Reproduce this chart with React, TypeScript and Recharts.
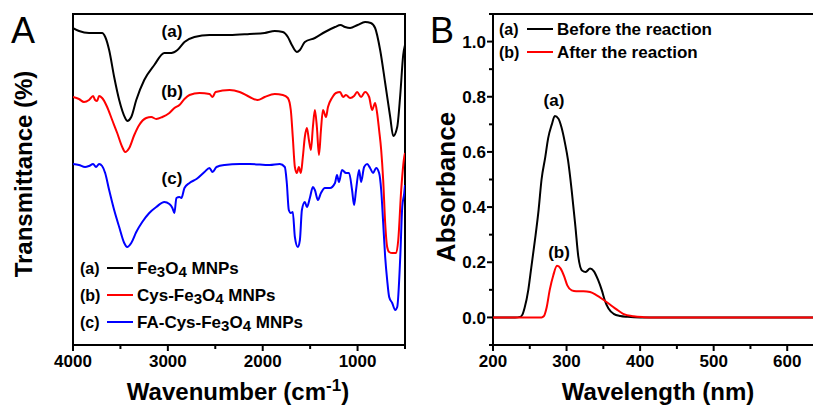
import { LineChart, Line, XAxis, YAxis, ReferenceArea } from "recharts";

// panel A: FTIR, wavenumber (cm-1) vs transmittance (arbitrary units)
const fe3o4: [number, number][] = [
  [4000, 317], [3936, 314], [3831, 312], [3693, 312], [3660, 308], [3619, 295], [3566, 268],
  [3513, 245], [3450, 227], [3429, 224], [3386, 228], [3333, 245], [3249, 265], [3143, 280],
  [3037, 292], [2963, 292], [2899, 295], [2825, 303], [2720, 308], [2561, 310], [2349, 310],
  [2138, 311], [1979, 312], [1873, 314], [1788, 313], [1735, 308], [1693, 300], [1640, 293],
  [1608, 295], [1556, 303], [1450, 307], [1344, 313], [1238, 318], [1180, 320], [1132, 318],
  [1079, 317], [1000, 320], [921, 323], [860, 322], [815, 317], [762, 295], [709, 262],
  [656, 228], [624, 209], [582, 218], [550, 250], [519, 290], [500, 300],
];

const cysFe3o4: [number, number][] = [
  [4000, 248], [3937, 246], [3884, 243], [3831, 245], [3788, 249], [3767, 245], [3746, 244],
  [3725, 249], [3693, 247], [3640, 238], [3587, 225], [3534, 212], [3481, 198], [3450, 193],
  [3407, 197], [3354, 210], [3302, 220], [3228, 227], [3175, 228], [3122, 226], [3058, 228],
  [2984, 232], [2931, 237], [2878, 240], [2825, 246], [2772, 250], [2667, 252], [2561, 251],
  [2529, 248], [2497, 253], [2349, 255], [2243, 253], [2138, 248], [2053, 245], [1979, 248],
  [1873, 251], [1788, 250], [1735, 247], [1704, 235], [1683, 208], [1661, 178], [1640, 172],
  [1619, 178], [1598, 172], [1577, 188], [1556, 208], [1534, 217], [1513, 205], [1492, 195],
  [1471, 218], [1450, 235], [1429, 218], [1407, 190], [1386, 215], [1365, 235], [1333, 228],
  [1312, 238], [1270, 247], [1228, 252], [1185, 253], [1153, 248], [1122, 250], [1079, 247],
  [1037, 249], [1005, 253], [963, 248], [921, 253], [878, 248], [847, 235], [815, 242],
  [794, 232], [773, 215], [751, 195], [730, 165], [709, 122], [688, 98], [667, 93],
  [635, 92], [593, 92], [571, 105], [540, 155], [508, 188], [500, 192],
];

const faCysFe3o4: [number, number][] = [
  [4000, 181], [3937, 180], [3873, 178], [3831, 179], [3788, 181], [3757, 178], [3725, 181],
  [3693, 179], [3661, 172], [3619, 155], [3566, 135], [3513, 118], [3460, 102], [3429, 98],
  [3386, 102], [3333, 113], [3270, 123], [3196, 132], [3122, 138], [3037, 143], [2984, 141],
  [2952, 137], [2931, 132], [2910, 147], [2878, 148], [2857, 147], [2825, 157], [2772, 162],
  [2698, 166], [2614, 173], [2561, 177], [2529, 173], [2487, 178], [2402, 180], [2243, 181],
  [2138, 181], [1926, 180], [1820, 181], [1767, 178], [1746, 162], [1725, 135], [1704, 132],
  [1683, 133], [1661, 108], [1630, 98], [1608, 105], [1587, 135], [1556, 143], [1534, 138],
  [1503, 147], [1471, 158], [1450, 155], [1418, 145], [1386, 152], [1344, 157], [1291, 157],
  [1238, 162], [1217, 170], [1196, 163], [1164, 175], [1122, 172], [1090, 172], [1058, 155],
  [1037, 140], [1016, 155], [984, 175], [963, 163], [931, 178], [899, 181], [868, 177],
  [836, 172], [804, 177], [773, 172], [751, 155], [730, 122], [709, 88], [688, 65],
  [667, 48], [635, 42], [603, 35], [582, 38], [550, 88], [529, 138], [508, 152], [500, 160],
];

// panel B: UV-vis, wavelength (nm) vs absorbance
const beforeReaction: [number, number][] = [
  [200, 0], [230, 0], [237, 0.002], [240, 0.01], [243, 0.035], [248, 0.1], [252, 0.18],
  [257, 0.28], [262, 0.39], [266, 0.5], [271, 0.58], [275, 0.65], [280, 0.7], [284, 0.73],
  [289, 0.72], [293, 0.69], [298, 0.63], [302, 0.57], [307, 0.46], [312, 0.33], [316, 0.22],
  [321, 0.17], [326, 0.165], [332, 0.177], [337, 0.168], [343, 0.135], [348, 0.098],
  [352, 0.062], [357, 0.032], [364, 0.013], [373, 0.005], [383, 0.002], [400, 0], [650, 0],
];

const afterReaction: [number, number][] = [
  [200, 0], [266, 0], [269, 0.004], [273, 0.037], [277, 0.098], [282, 0.153], [287, 0.187],
  [292, 0.177], [297, 0.147], [301, 0.116], [307, 0.098], [313, 0.095], [323, 0.095],
  [332, 0.092], [341, 0.08], [350, 0.064], [359, 0.047], [368, 0.029], [377, 0.013],
  [391, 0.004], [405, 0.001], [420, 0], [650, 0],
];

const wnTicks = [4000, 3500, 3000, 2500, 2000, 1500, 1000, 500];
const wnLabels = [4000, 3000, 2000, 1000];
const wlTicks = [200, 250, 300, 350, 400, 450, 500, 550, 600, 650];
const wlLabels = [200, 300, 400, 500, 600];
const absTicks = [-0.1, 0, 0.1, 0.2, 0.3, 0.4, 0.5, 0.6, 0.7, 0.8, 0.9, 1.0, 1.1];
const absLabels = ["0.0", "0.2", "0.4", "0.6", "0.8", "1.0"];

const font = "'Liberation Sans', Arial, Helvetica, sans-serif";

const toRows = (pts: [number, number][]) => pts.map(([x, y]) => ({ x, y }));

function BottomTick(props: any) {
  const { x, y, payload, labels } = props;
  const major = labels.includes(payload.value);
  return (
    <g>
      <line x1={x} x2={x} y1={y} y2={y + (major ? 6 : 4)} stroke="#000" strokeWidth={2} />
      {major && (
        <text x={x} y={y + 22} textAnchor="middle" fontFamily={font} fontWeight="bold" fontSize={17} fill="#000">
          {payload.value}
        </text>
      )}
    </g>
  );
}

function LeftTick(props: any) {
  const { x, y, payload } = props;
  const lbl = payload.value.toFixed(1);
  const major = absLabels.includes(lbl) && payload.value >= 0;
  return (
    <g>
      <line x1={x - (major ? 6 : 4)} x2={x} y1={y} y2={y} stroke="#000" strokeWidth={2} />
      {major && (
        <text x={x - 7} y={y} dy="0.36em" textAnchor="end" fontFamily={font} fontWeight="bold" fontSize={17} fill="#000">
          {lbl}
        </text>
      )}
    </g>
  );
}

const txt = { fontFamily: font, fontWeight: "bold" as const, fill: "#000" };

export default function App() {
  return (
    <div style={{ position: "fixed", left: 0, top: 0, width: 813, height: 405, overflow: "hidden", background: "#fff" }}>
      <div style={{ position: "absolute", left: 0, top: 0 }}>
        <LineChart width={410} height={405} margin={{ top: 14, right: 5, bottom: 30, left: 73 }}>
          <XAxis
            type="number"
            dataKey="x"
            domain={[500, 4000]}
            reversed
            ticks={wnTicks}
            height={30}
            tickSize={0}
            tickMargin={0}
            axisLine={false}
            tickLine={false}
            interval={0}
            tick={<BottomTick labels={wnLabels} />}
            allowDataOverflow
          />
          <YAxis type="number" domain={[0, 331]} hide allowDataOverflow />
          <ReferenceArea x1={500} x2={4000} y1={0} y2={331} fill="none" stroke="#000" strokeWidth={2} />
          <Line data={toRows(fe3o4)} dataKey="y" type="monotone" stroke="#000" strokeWidth={2} dot={false} isAnimationActive={false} />
          <Line data={toRows(cysFe3o4)} dataKey="y" type="monotone" stroke="#ff0000" strokeWidth={2} dot={false} isAnimationActive={false} />
          <Line data={toRows(faCysFe3o4)} dataKey="y" type="monotone" stroke="#0000ff" strokeWidth={2} dot={false} isAnimationActive={false} />
        </LineChart>
      </div>
      <div style={{ position: "absolute", left: 420, top: 0 }}>
        <LineChart width={420} height={405} margin={{ top: 14, right: 16, bottom: 30, left: 33 }}>
          <XAxis
            type="number"
            dataKey="x"
            domain={[200, 650]}
            ticks={wlTicks}
            height={30}
            tickSize={0}
            tickMargin={0}
            axisLine={false}
            tickLine={false}
            interval={0}
            tick={<BottomTick labels={wlLabels} />}
            allowDataOverflow
          />
          <YAxis
            type="number"
            domain={[-0.1, 1.1]}
            ticks={absTicks}
            width={40}
            tickSize={0}
            tickMargin={0}
            axisLine={false}
            tickLine={false}
            interval={0}
            tick={<LeftTick />}
            allowDataOverflow
          />
          <ReferenceArea x1={200} x2={650} y1={-0.1} y2={1.1} fill="none" stroke="#000" strokeWidth={2} />
          <Line data={toRows(beforeReaction)} dataKey="y" type="monotone" stroke="#000" strokeWidth={2} dot={false} isAnimationActive={false} />
          <Line data={toRows(afterReaction)} dataKey="y" type="monotone" stroke="#ff0000" strokeWidth={2} dot={false} isAnimationActive={false} />
        </LineChart>
      </div>
      <svg width={813} height={405} style={{ position: "absolute", left: 0, top: 0, pointerEvents: "none" }}>
        <text x={11} y={43} fontFamily={font} fontSize={36} fill="#000">A</text>
        <text x={430} y={43} fontFamily={font} fontSize={36} fill="#000">B</text>

        <text {...txt} fontSize={24} textAnchor="middle" transform="translate(32,174) rotate(-90)">Transmittance (%)</text>
        <text {...txt} fontSize={24} x={238} y={400} textAnchor="middle">
          Wavenumber (cm<tspan fontSize={17} dy={-9}>-1</tspan><tspan dy={9}>)</tspan>
        </text>
        <text {...txt} fontSize={26} textAnchor="middle" transform="translate(455,187) rotate(-90)">Absorbance</text>
        <text {...txt} fontSize={24} x={658} y={400} textAnchor="middle">Wavelength (nm)</text>

        <text {...txt} fontSize={17} x={172} y={37} textAnchor="middle">(a)</text>
        <text {...txt} fontSize={17} x={172} y={97} textAnchor="middle">(b)</text>
        <text {...txt} fontSize={17} x={172} y={184} textAnchor="middle">(c)</text>
        <text {...txt} fontSize={17} x={554} y={106} textAnchor="middle">(a)</text>
        <text {...txt} fontSize={17} x={559} y={258} textAnchor="middle">(b)</text>

        <text {...txt} fontSize={16} x={80} y={274}>(a)</text>
        <line x1={107} x2={133} y1={268} y2={268} stroke="#000" strokeWidth={2} />
        <text {...txt} fontSize={17} x={137} y={274}>
          Fe<tspan fontSize={15} dy={3}>3</tspan><tspan dy={-3}>O</tspan><tspan fontSize={15} dy={3}>4</tspan><tspan dy={-3}> MNPs</tspan>
        </text>
        <text {...txt} fontSize={16} x={80} y={301}>(b)</text>
        <line x1={107} x2={133} y1={295} y2={295} stroke="#ff0000" strokeWidth={2} />
        <text {...txt} fontSize={17} x={137} y={301}>
          Cys-Fe<tspan fontSize={15} dy={3}>3</tspan><tspan dy={-3}>O</tspan><tspan fontSize={15} dy={3}>4</tspan><tspan dy={-3}> MNPs</tspan>
        </text>
        <text {...txt} fontSize={16} x={80} y={328}>(c)</text>
        <line x1={107} x2={133} y1={322} y2={322} stroke="#0000ff" strokeWidth={2} />
        <text {...txt} fontSize={17} x={137} y={328}>
          FA-Cys-Fe<tspan fontSize={15} dy={3}>3</tspan><tspan dy={-3}>O</tspan><tspan fontSize={15} dy={3}>4</tspan><tspan dy={-3}> MNPs</tspan>
        </text>

        <text {...txt} fontSize={16} x={499} y={35}>(a)</text>
        <line x1={527} x2={553} y1={29} y2={29} stroke="#000" strokeWidth={2} />
        <text {...txt} fontSize={17} x={557} y={35}>Before the reaction</text>
        <text {...txt} fontSize={16} x={499} y={58}>(b)</text>
        <line x1={527} x2={553} y1={52} y2={52} stroke="#ff0000" strokeWidth={2} />
        <text {...txt} fontSize={17} x={557} y={58}>After the reaction</text>
      </svg>
    </div>
  );
}
